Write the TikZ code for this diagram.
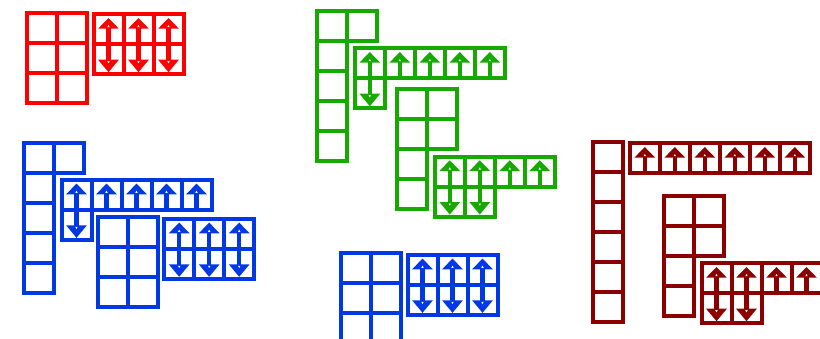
\documentclass[tikz,border=0pt]{standalone}
\usepackage{tikz}
\usetikzlibrary{positioning}
\definecolor{tabred}{RGB}{255,0,0}
\definecolor{tabgreen}{RGB}{22,170,0}
\definecolor{tabblue}{RGB}{0,56,228}
\definecolor{tabdark}{RGB}{139,0,0}
\tikzset{
    cellbox/.style={line width=4pt, line join=miter},
    uparr/.pic={
        \fill (4.6,14.5) -- (15,3.8) -- (25.4,14.5) -- cycle;
        \fill (12.8,14) rectangle (17.2,30);
        \fill[white] (13.8,13) -- (15,10.8) -- (16.2,13) -- cycle;
    },
    downarr/.pic={
        \fill (4.6,15.5) -- (15,28) -- (25.4,15.5) -- cycle;
        \fill (12.8,0) rectangle (17.2,16);
        \fill[white] (13.8,17) -- (15,19.2) -- (16.2,17) -- cycle;
    }
}

\begin{document}
\begin{tikzpicture}[x=1pt, y=-1pt]
    \clip (0,0) rectangle (820,338);

    % Red: 2x3 block and arrow box
    \begin{scope}[cellbox, color=tabred]
        \foreach \r in {0,1,2} {
            \foreach \i in {0,1} {
                \draw (26.5+30*\i, 12.5+30*\r) rectangle ++(30,30);
            }
        }
        \foreach \i in {0,1,2} {
            \draw (93.5+30*\i, 14.2) rectangle ++(30,30);
            \draw (93.5+30*\i, 44.2) rectangle ++(30,30);
            \pic at (93.5+30*\i, 14.2) {uparr};
            \pic at (93.5+30*\i, 44.2) {downarr};
        }
    \end{scope}

    % Green: column, block and two arrow boxes
    \begin{scope}[cellbox, color=tabgreen]
        \foreach \r/\n in {0/1, 1/0, 2/0, 3/0, 4/0} {
            \foreach \i in {0,...,\n} {
                \draw (317.2+30*\i, 10.8+30*\r) rectangle ++(30,30);
            }
        }
        \foreach \i in {0,...,4} {
            \draw (354.8+30*\i, 48.2) rectangle ++(30,30);
            \pic at (354.8+30*\i, 48.2) {uparr};
        }
        \draw (354.8, 78.2) rectangle ++(30,30);
        \pic at (354.8, 78.2) {downarr};
        \foreach \r/\n in {0/1, 1/1, 2/0, 3/0} {
            \foreach \i in {0,...,\n} {
                \draw (397.2+30*\i, 89.2+30*\r) rectangle ++(30,30);
            }
        }
        \foreach \i in {0,...,3} {
            \draw (434.8+30*\i, 156.5) rectangle ++(30,30);
            \pic at (434.8+30*\i, 156.5) {uparr};
        }
        \foreach \i in {0,1} {
            \draw (434.8+30*\i, 186.5) rectangle ++(30,30);
            \pic at (434.8+30*\i, 186.5) {downarr};
        }
    \end{scope}

    % Blue: column, blocks and arrow boxes
    \begin{scope}[cellbox, color=tabblue]
        \foreach \r/\n in {0/1, 1/0, 2/0, 3/0, 4/0} {
            \foreach \i in {0,...,\n} {
                \draw (23.8+30*\i, 143.2+30*\r) rectangle ++(30,30);
            }
        }
        \foreach \i in {0,...,4} {
            \draw (61.5+30*\i, 179.8) rectangle ++(30,30);
            \pic at (61.5+30*\i, 179.8) {uparr};
        }
        \draw (61.5, 209.8) rectangle ++(30,30);
        \pic at (61.5, 209.8) {downarr};
        \foreach \x/\y in {97.5/216.5, 340.8/253.2} {
            \foreach \r in {0,1,2} {
                \foreach \i in {0,1} {
                    \draw (\x+30*\i, \y+30*\r) rectangle ++(30,30);
                }
            }
        }
        \foreach \x/\y in {164.2/218.8, 407.5/254.8} {
            \foreach \i in {0,1,2} {
                \draw (\x+30*\i, \y) rectangle ++(30,30);
                \draw (\x+30*\i, \y+30) rectangle ++(30,30);
                \pic at (\x+30*\i, \y) {uparr};
                \pic at (\x+30*\i, \y+30) {downarr};
            }
        }
    \end{scope}

    % Dark red: column, block and arrow boxes
    \begin{scope}[cellbox, color=tabdark]
        \foreach \r in {0,...,5} {
            \draw (592.5, 141.5+30*\r) rectangle ++(30,30);
        }
        \foreach \i in {0,...,5} {
            \draw (629.8+30*\i, 143.2) rectangle ++(30,30);
            \pic at (629.8+30*\i, 143.2) {uparr};
        }
        \foreach \r/\n in {0/1, 1/1, 2/0, 3/0} {
            \foreach \i in {0,...,\n} {
                \draw (664.2+30*\i, 195.5+30*\r) rectangle ++(30,30);
            }
        }
        \foreach \i in {0,...,3} {
            \draw (701.5+30*\i, 263.2) rectangle ++(30,30);
            \pic at (701.5+30*\i, 263.2) {uparr};
        }
        \foreach \i in {0,1} {
            \draw (701.5+30*\i, 293.2) rectangle ++(30,30);
            \pic at (701.5+30*\i, 293.2) {downarr};
        }
    \end{scope}
\end{tikzpicture}
\end{document}
